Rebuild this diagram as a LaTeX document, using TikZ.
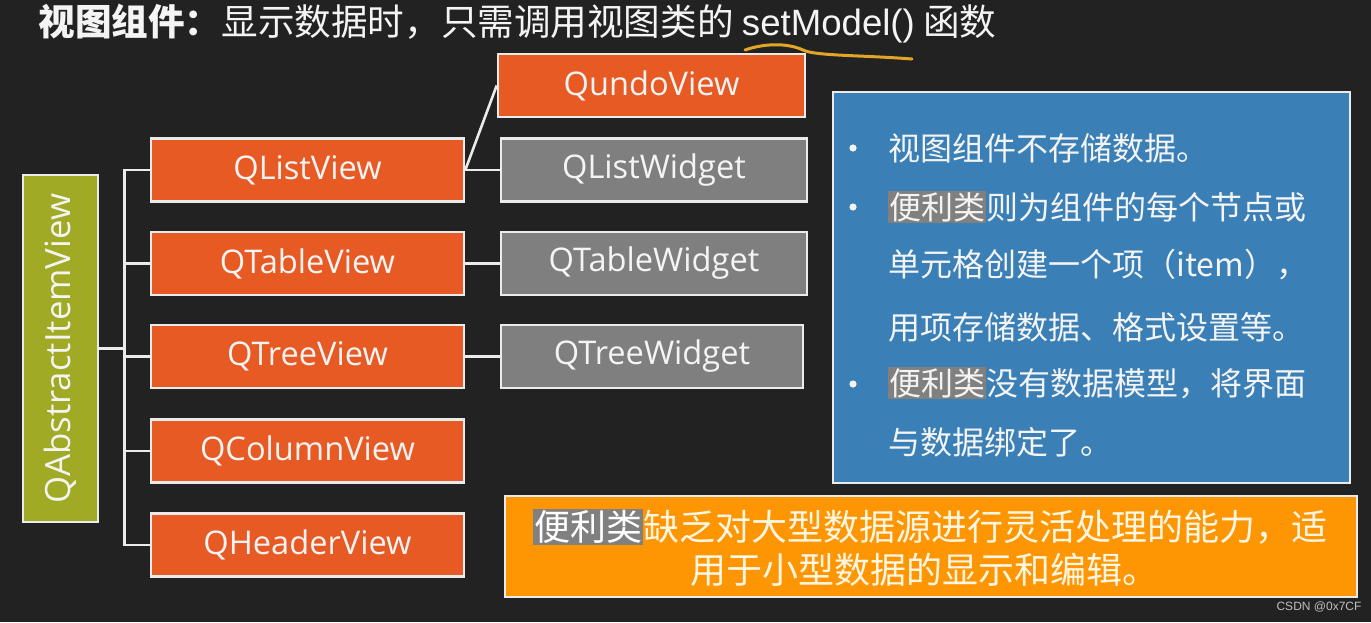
\documentclass[tikz,border=0pt]{standalone}
\usepackage{fontspec}
\setmainfont{Noto Sans CJK SC}
\newfontfamily\lat{Open Sans}
\newfontfamily\ari{Liberation Sans}
\definecolor{bg}{RGB}{34,34,34}
\definecolor{qorange}{RGB}{232,90,36}
\definecolor{qgray}{RGB}{127,127,127}
\definecolor{qolive}{RGB}{160,170,36}
\definecolor{qblue}{RGB}{58,127,182}
\definecolor{qamber}{RGB}{253,150,2}
\definecolor{hl}{RGB}{128,128,128}
\definecolor{txt}{RGB}{244,244,244}
\definecolor{cream}{RGB}{255,247,228}
\definecolor{gold}{RGB}{225,165,40}
\definecolor{edge}{RGB}{235,235,235}
\setlength{\fboxsep}{0.5pt}
\begin{document}
\begin{tikzpicture}[x=0.5pt,y=-0.5pt,
  box/.style={draw=edge, line width=1.3pt, text=txt, inner sep=0pt,
    font=\lat\fontsize{16.3}{19}\selectfont, minimum height=31.5pt},
  obox/.style={box, fill=qorange, minimum width=156.5pt},
  gbox/.style={box, fill=qgray, minimum width=153pt},
  link/.style={draw=edge, line width=1.3pt},
  dot/.style={circle, fill=txt, inner sep=0pt, minimum size=3.6pt},
  cn/.style={text=txt, inner sep=0pt, font=\fontsize{16}{19}\selectfont},
  on/.style={text=cream, inner sep=0pt, font=\fontsize{18}{21}\selectfont}]
\fill[bg] (0,0) rectangle (1371,622);
\useasboundingbox (0,0) rectangle (1371,622);

% title
\node[anchor=west, text=txt, inner sep=0pt, font=\fontsize{18.3}{21}\selectfont] (title) at (38,24)
  {\textbf{视图组件：}显示数据时，只需调用视图类的 {\ari setModel()} 函数};
\draw[gold, line width=1.5pt, line cap=round] (745,50) .. controls (765,43) and (788,43) .. (803,50)
  .. controls (815,56) and (860,55) .. (912,59);

% hierarchy
\node[box, fill=qolive, minimum width=37.5pt, minimum height=173.5pt, font=\lat\fontsize{17.4}{20}\selectfont] (abs) at (60.5,348.5)
  {\rotatebox{90}{QAbstractItemView}};
\node[obox] (qlist) at (307.5,170) {QListView};
\node[obox] (qtable) at (307.5,263.5) {QTableView};
\node[obox] (qtree) at (307.5,356.5) {QTreeView};
\node[obox] (qcol) at (307.5,451) {QColumnView};
\node[obox] (qhead) at (307.5,545) {QHeaderView};

\node[box, fill=qorange, minimum width=153.5pt] (qundo) at (651.5,85.5) {QundoView};
\node[gbox] (qlistw) at (654,170) {QListWidget};
\node[gbox] (qtablew) at (654,263.5) {QTableWidget};
\node[gbox, minimum width=151pt] (qtreew) at (652,356.5) {QTreeWidget};

\foreach \n in {qlist,qtable,qtree,qcol,qhead}
  \draw[link] (abs.east) -- ++(25,0) |- (\n.west);
\draw[link] (qlist.east) -- (qlistw.west);
\draw[link] (qlist.east) -- (qundo.west);
\draw[link] (qtable.east) -- (qtablew.west);
\draw[link] (qtree.east) -- (qtreew.west);

% info box
\node[draw=edge, line width=1.3pt, fill=qblue, minimum width=258.5pt, minimum height=195.5pt] (info) at (1091.5,287.5) {};
\node[dot] (b1) at (853,148) {};
\node[dot] (b2) at (853,207) {};
\node[dot] (b3) at (853,384) {};
\node[cn, anchor=west] (l1) at (888,148) {视图组件不存储数据。};
\node[cn, anchor=west] (l2) at (888,207) {\colorbox{hl}{便利类}则为组件的每个节点或};
\node[cn, anchor=west] (l3) at (888,265) {单元格创建一个项（item），};
\node[cn, anchor=west] (l4) at (888,327) {用项存储数据、格式设置等。};
\node[cn, anchor=west] (l5) at (888,383) {\colorbox{hl}{便利类}没有数据模型，将界面};
\node[cn, anchor=west] (l6) at (888,442) {与数据绑定了。};

% note box
\node[draw=edge, line width=1.3pt, fill=qamber, minimum width=426pt, minimum height=50.5pt] (note) at (931,546.5) {};
\node[on] (n1) at (930,527) {\colorbox{hl}{\textcolor{white}{便利类}}缺乏对大型数据源进行灵活处理的能力，适};
\node[on] (n2) at (924,570) {用于小型数据的显示和编辑。};

\node[text=white!75!black, inner sep=0pt, font=\ari\fontsize{6}{7}\selectfont] (wm) at (1319,607) {CSDN @0x7CF};
\end{tikzpicture}
\end{document}
